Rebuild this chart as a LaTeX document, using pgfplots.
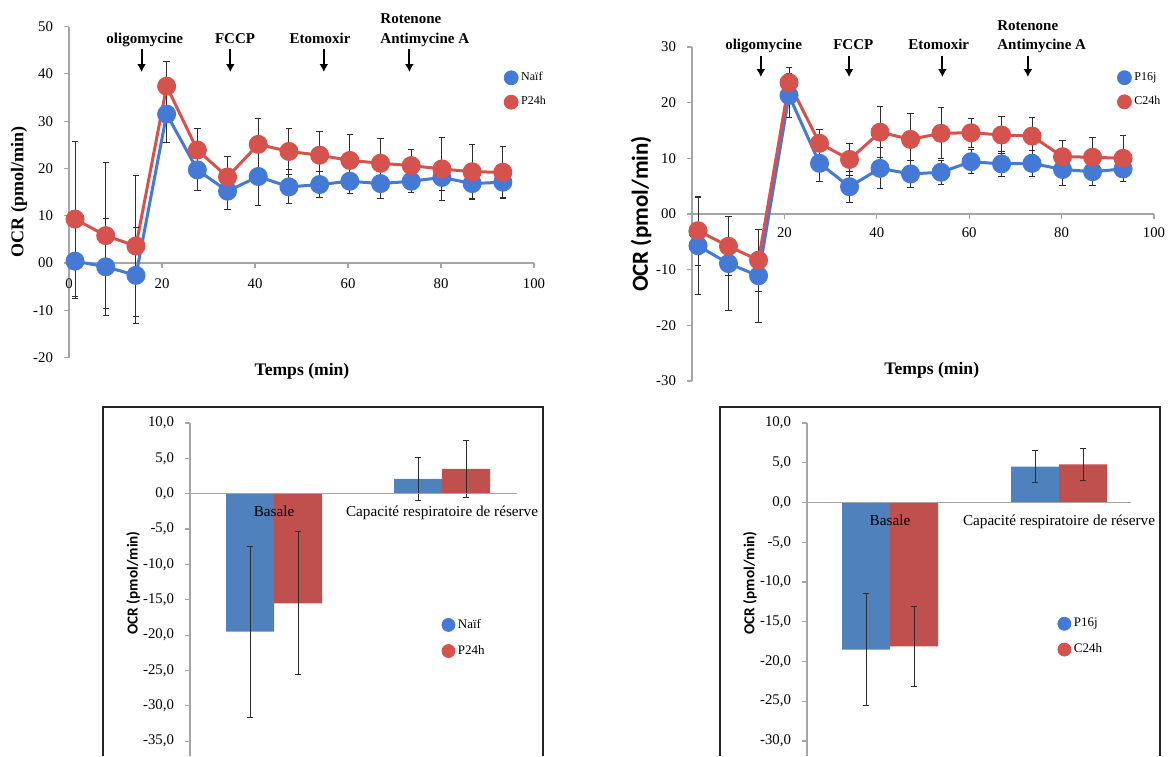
\documentclass[border=0pt]{standalone}
\usepackage{pgfplots}
\pgfplotsset{compat=1.18}
\usepackage{fontspec}
\setmainfont{Liberation Serif}
\newfontfamily\calibri{Carlito}
\usetikzlibrary{arrows.meta}

\definecolor{lblue}{RGB}{68,122,214}
\definecolor{lred}{RGB}{214,82,77}
\definecolor{bblue}{RGB}{79,129,189}
\definecolor{bred}{RGB}{192,80,77}
\definecolor{axgray}{RGB}{165,165,165}
\definecolor{ebar}{RGB}{45,45,45}

\pgfplotsset{
  base/.style={scale only axis, clip=false,
    axis x line*=middle, axis y line*=left,
    hide obscured x ticks=false, hide obscured y ticks=false,
    axis line style={axgray, line width=0.75pt},
    tick style={axgray, line width=0.6pt},
    major tick length=2.5pt, tick align=outside,
    tick label style={font=\fontsize{7.4}{8}\selectfont},
    yticklabel style={xshift=-2pt},
    legend image code/.code={\draw[mark repeat=2, mark phase=2, #1] plot coordinates {(0pt,0pt) (3.5pt,0pt) (7pt,0pt)};},
  },
  toplegend/.style={legend style={draw=none, fill=none, inner sep=0pt, anchor=west,
      font=\fontsize{6}{7}\selectfont, row sep=3.5pt, nodes={inner sep=1.5pt}},
      legend cell align=left},
  botlegend/.style={legend style={draw=none, fill=none, inner sep=0pt, anchor=west,
      font=\fontsize{6.5}{7.5}\selectfont, row sep=4pt, nodes={inner sep=1.5pt}},
      legend cell align=left},
  ebars/.style={error bars/.cd, y dir=both, y explicit, error mark=-,
      error bar style={draw=ebar, line width=0.5pt, solid},
      error mark options={draw=ebar, mark size=1.6pt, line width=0.5pt, solid, rotate=90}},
}

\tikzset{annot/.style={font=\bfseries\fontsize{7.5}{9}\selectfont, inner sep=0pt},
  arr/.style={-{Latex[length=4pt,width=4.5pt]}, line width=1pt, black}}

\begin{document}
\begin{tikzpicture}
\useasboundingbox (0pt,0pt) rectangle (585pt,378pt);

% ---------------- top left ----------------
\begin{axis}[base, toplegend,
  at={(34.5pt,199.2pt)}, anchor=south west, width=232.5pt, height=165.5pt,
  xmin=0, xmax=100, ymin=-20, ymax=50,
  xtick={0,20,40,60,80,100}, xticklabels={0,20,40,60,80,100},
  xticklabel style={yshift=-2pt},
  ytick={-20,-10,0,10,20,30,40,50}, yticklabels={-20,-10,00,10,20,30,40,50},
  xlabel={Temps (min)},
  xlabel style={at={(axis description cs:0.501,-0.04)}, anchor=center, font=\bfseries\fontsize{8.8}{10}\selectfont},
  ylabel={OCR (pmol/min)},
  ylabel style={at={(axis description cs:-0.1075,0.5)}, anchor=center, font=\bfseries\fontsize{9}{10}\selectfont},
  legend style={at={(axis cs:93.5,36.6)}},
]
\addplot[forget plot, lblue, line width=1.5pt, mark=*, mark size=4pt, mark options={draw=none}] coordinates {
(1.3,0.4) (7.9,-0.8) (14.4,-2.6) (21.0,31.5) (27.6,19.7) (34.1,15.2) (40.7,18.3) (47.3,16.1)
(53.9,16.6) (60.4,17.3) (67.0,16.8) (73.6,17.3) (80.2,18.1) (86.7,16.8) (93.3,17.1)};
\addplot[forget plot, lred, line width=1.5pt, mark=*, mark size=4pt, mark options={draw=none}] coordinates {
(1.3,9.3) (7.9,5.8) (14.4,3.6) (21.0,37.4) (27.6,23.9) (34.1,18.2) (40.7,25.1) (47.3,23.6)
(53.9,22.8) (60.4,21.7) (67.0,21.1) (73.6,20.6) (80.2,19.9) (86.7,19.3) (93.3,19.2)};
\addplot[forget plot, draw=none, mark=none, ebars] coordinates {
(1.3,0.4) +- (0,8) (7.9,-0.8) +- (0,10.2) (14.4,-2.6) +- (0,10.2) (21.0,31.5) +- (0,6)
(27.6,19.7) +- (0,4.4) (34.1,15.2) +- (0,3.8) (40.7,18.3) +- (0,6.2) (47.3,16.1) +- (0,3.6)
(53.9,16.6) +- (0,2.8) (60.4,17.3) +- (0,2.7) (67.0,16.8) +- (0,3.1) (73.6,17.3) +- (0,2.3)
(80.2,18.1) +- (0,2.7) (86.7,16.8) +- (0,3.3) (93.3,17.1) +- (0,3.4)};
\addplot[forget plot, draw=none, mark=none, ebars] coordinates {
(1.3,9.3) +- (0,16.4) (7.9,5.8) +- (0,15.4) (14.4,3.6) +- (0,14.9) (21.0,37.4) +- (0,5.3)
(27.6,23.9) +- (0,4.6) (34.1,18.2) +- (0,4.3) (40.7,25.1) +- (0,5.5) (47.3,23.6) +- (0,4.9)
(53.9,22.8) +- (0,5.0) (60.4,21.7) +- (0,5.4) (67.0,21.1) +- (0,5.3) (73.6,20.6) +- (0,3.5)
(80.2,19.9) +- (0,6.7) (86.7,19.3) +- (0,5.7) (93.3,19.2) +- (0,5.4)};
\addlegendimage{only marks, mark=*, mark size=3.5pt, lblue, mark options={draw=none}}
\addlegendentry{Naïf}
\addlegendimage{only marks, mark=*, mark size=3.5pt, lred, mark options={draw=none}}
\addlegendentry{P24h}
\node[annot, anchor=base] at (axis cs:16.3,46.5) {oligomycine};
\node[annot, anchor=base] at (axis cs:35.7,46.5) {FCCP};
\node[annot, anchor=base] at (axis cs:54.0,46.5) {Etomoxir};
\node[annot, anchor=base west] at (axis cs:66.9,50.7) {Rotenone};
\node[annot, anchor=base west] at (axis cs:66.9,46.5) {Antimycine A};
\draw[arr] (axis cs:15.6,45.2) -- (axis cs:15.6,40.4);
\draw[arr] (axis cs:34.7,45.2) -- (axis cs:34.7,40.4);
\draw[arr] (axis cs:54.8,45.2) -- (axis cs:54.8,40.4);
\draw[arr] (axis cs:73.2,45.2) -- (axis cs:73.2,40.4);
\end{axis}

% ---------------- top right ----------------
\begin{axis}[base, toplegend,
  at={(346pt,187.5pt)}, anchor=south west, width=231pt, height=167pt,
  xmin=0, xmax=100, ymin=-30, ymax=30,
  xtick={0,20,40,60,80,100}, xticklabels={0,20,40,60,80,100},
  xticklabel style={yshift=-1pt},
  ytick={-30,-20,-10,0,10,20,30}, yticklabels={-30,-20,-10,00,10,20,30},
  xlabel={Temps (min)},
  xlabel style={at={(axis description cs:0.519,0.033)}, anchor=center, font=\bfseries\fontsize{8.8}{10}\selectfont},
  ylabel={OCR (pmol/min)},
  ylabel style={at={(axis description cs:-0.110,0.5)}, anchor=center, font=\calibri\bfseries\fontsize{11.5}{13}\selectfont},
  legend style={at={(axis cs:92.0,22.3)}},
]
\addplot[forget plot, lblue, line width=1.5pt, mark=*, mark size=4pt, mark options={draw=none}] coordinates {
(1.3,-5.7) (7.9,-8.9) (14.4,-11.1) (21.0,21.3) (27.6,9.1) (34.1,4.9) (40.7,8.2) (47.3,7.2)
(53.9,7.5) (60.4,9.4) (67.0,9.0) (73.6,9.1) (80.2,8.0) (86.7,7.6) (93.3,8.1)};
\addplot[forget plot, lred, line width=1.5pt, mark=*, mark size=4pt, mark options={draw=none}] coordinates {
(1.3,-3.0) (7.9,-5.8) (14.4,-8.3) (21.0,23.6) (27.6,12.7) (34.1,9.8) (40.7,14.7) (47.3,13.4)
(53.9,14.5) (60.4,14.6) (67.0,14.2) (73.6,14.0) (80.2,10.3) (86.7,10.2) (93.3,10.0)};
\addplot[forget plot, draw=none, mark=none, ebars] coordinates {
(1.3,-5.7) +- (0,8.7) (7.9,-8.9) +- (0,8.4) (14.4,-11.1) +- (0,8.4) (21.0,21.3) +- (0,4)
(27.6,9.1) +- (0,3.3) (34.1,4.9) +- (0,2.8) (40.7,8.2) +- (0,3.7) (47.3,7.2) +- (0,2.5)
(53.9,7.5) +- (0,2.2) (60.4,9.4) +- (0,2.2) (67.0,9.0) +- (0,2.2) (73.6,9.1) +- (0,2.3)
(80.2,8.0) +- (0,2.9) (86.7,7.6) +- (0,2.5) (93.3,8.1) +- (0,2.3)};
\addplot[forget plot, draw=none, mark=none, ebars] coordinates {
(1.3,-3.0) +- (0,6.2) (7.9,-5.8) +- (0,5.3) (14.4,-8.3) +- (0,5.6) (21.0,23.6) +- (0,2.8)
(27.6,12.7) +- (0,2.5) (34.1,9.8) +- (0,2.8) (40.7,14.7) +- (0,4.6) (47.3,13.4) +- (0,4.6)
(53.9,14.5) +- (0,4.6) (60.4,14.6) +- (0,2.6) (67.0,14.2) +- (0,3.4) (73.6,14.0) +- (0,3.3)
(80.2,10.3) +- (0,2.9) (86.7,10.2) +- (0,3.5) (93.3,10.0) +- (0,4.1)};
\addlegendimage{only marks, mark=*, mark size=3.5pt, lblue, mark options={draw=none}}
\addlegendentry{P16j}
\addlegendimage{only marks, mark=*, mark size=3.5pt, lred, mark options={draw=none}}
\addlegendentry{C24h}
\node[annot, anchor=base] at (axis cs:15.5,29.6) {oligomycine};
\node[annot, anchor=base] at (axis cs:34.9,29.6) {FCCP};
\node[annot, anchor=base] at (axis cs:53.4,29.6) {Etomoxir};
\node[annot, anchor=base west] at (axis cs:66.0,33.0) {Rotenone};
\node[annot, anchor=base west] at (axis cs:66.0,29.6) {Antimycine A};
\draw[arr] (axis cs:14.9,28.4) -- (axis cs:14.9,24.6);
\draw[arr] (axis cs:34.0,28.4) -- (axis cs:34.0,24.6);
\draw[arr] (axis cs:54.2,28.4) -- (axis cs:54.2,24.6);
\draw[arr] (axis cs:72.7,28.4) -- (axis cs:72.7,24.6);
\end{axis}

% ---------------- bottom left ----------------
\draw[line width=1pt, black!85] (51.5pt,0pt) -- (51.5pt,174.5pt) -- (271.5pt,174.5pt) -- (271.5pt,0pt);
\begin{axis}[base, botlegend, axis on top,
  at={(95pt,0pt)}, anchor=south west, width=163.5pt, height=166.5pt,
  xmin=-0.5, xmax=1.446, ymin=-37.1, ymax=10,
  xtick={0,1}, xticklabels={Basale, Capacité respiratoire de réserve},
  x tick style={draw=none},
  xticklabel style={font=\fontsize{7.6}{9}\selectfont, yshift=0pt},
  ytick={-35,-30,-25,-20,-15,-10,-5,0,5,10},
  yticklabels={{-35,0},{-30,0},{-25,0},{-20,0},{-15,0},{-10,0},{-5,0},{0,0},{5,0},{10,0}},
  ylabel={OCR (pmol/min)},
  ylabel style={at={(axis description cs:-0.174,0.52)}, anchor=center, font=\calibri\bfseries\fontsize{7.6}{9}\selectfont},
  legend style={at={(axis cs:0.997,-20.4)}},
]
\addplot[forget plot, ybar, bar width=24pt, bar shift=0pt, fill=bblue, draw=none, ebars] coordinates {
(-0.1429,-19.5) +- (0,12.1) (0.8571,2.1) +- (0,3.0)};
\addplot[forget plot, ybar, bar width=24pt, bar shift=0pt, fill=bred, draw=none, ebars] coordinates {
(0.1429,-15.5) +- (0,10.1) (1.1429,3.5) +- (0,4.05)};
\addlegendimage{only marks, mark=*, mark size=3.25pt, lblue, mark options={draw=none}}
\addlegendentry{Naïf}
\addlegendimage{only marks, mark=*, mark size=3.25pt, lred, mark options={draw=none}}
\addlegendentry{P24h}
\end{axis}

% ---------------- bottom right ----------------
\draw[line width=1pt, black!85] (360pt,0pt) -- (360pt,174.5pt) -- (580pt,174.5pt) -- (580pt,0pt);
\begin{axis}[base, botlegend, axis on top,
  at={(403.5pt,0pt)}, anchor=south west, width=162pt, height=166.5pt,
  xmin=-0.491, xmax=1.426, ymin=-31.9, ymax=10,
  xtick={0,1}, xticklabels={Basale, Capacité respiratoire de réserve},
  x tick style={draw=none},
  xticklabel style={font=\fontsize{7.6}{9}\selectfont, yshift=0pt},
  ytick={-30,-25,-20,-15,-10,-5,0,5,10},
  yticklabels={{-30,0},{-25,0},{-20,0},{-15,0},{-10,0},{-5,0},{0,0},{5,0},{10,0}},
  ylabel={OCR (pmol/min)},
  ylabel style={at={(axis description cs:-0.176,0.52)}, anchor=center, font=\calibri\bfseries\fontsize{7.6}{9}\selectfont},
  legend style={at={(axis cs:0.991,-16.9)}},
]
\addplot[forget plot, ybar, bar width=24pt, bar shift=0pt, fill=bblue, draw=none, ebars] coordinates {
(-0.142,-18.5) +- (0,7.0) (0.858,4.5) +- (0,2.0)};
\addplot[forget plot, ybar, bar width=24pt, bar shift=0pt, fill=bred, draw=none, ebars] coordinates {
(0.142,-18.1) +- (0,5.0) (1.142,4.8) +- (0,2.0)};
\addlegendimage{only marks, mark=*, mark size=3.25pt, lblue, mark options={draw=none}}
\addlegendentry{P16j}
\addlegendimage{only marks, mark=*, mark size=3.25pt, lred, mark options={draw=none}}
\addlegendentry{C24h}
\end{axis}
\end{tikzpicture}
\end{document}
